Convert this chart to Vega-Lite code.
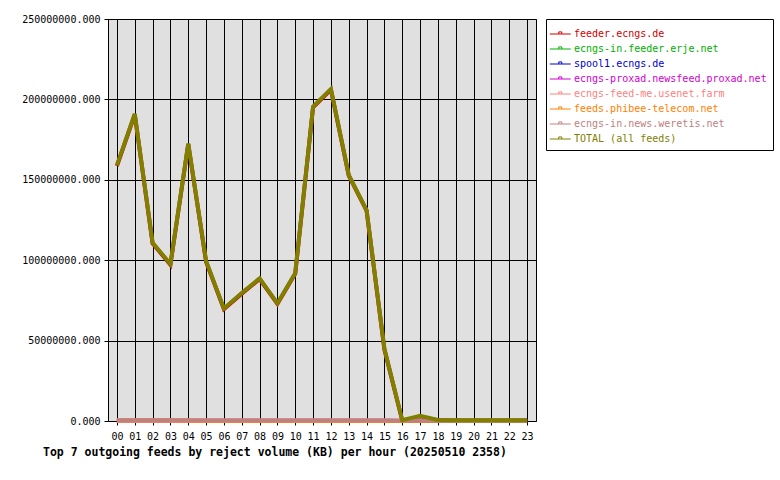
{
  "$schema": "https://vega.github.io/schema/vega-lite/v6.json",
  "width": 428,
  "height": 402,
  "autosize": "none",
  "padding": {"left": 108, "top": 19, "right": 244, "bottom": 59},
  "background": "white",
  "config": {
    "font": "DejaVu Sans Mono",
    "view": {"fill": "#e0e0e0", "stroke": "black", "strokeWidth": 1},
    "axis": {
      "labelFont": "DejaVu Sans Mono", "labelFontSize": 10, "labelColor": "black",
      "domainColor": "black", "tickColor": "black", "gridColor": "black",
      "gridOpacity": 1, "gridWidth": 1, "title": null
    }
  },
  "title": {
    "text": "Top 7 outgoing feeds by reject volume (KB) per hour (20250510 2358)",
    "orient": "bottom", "anchor": "start", "frame": "group", "dx": -65, "offset": 6,
    "font": "DejaVu Sans Mono", "fontSize": 11.5, "fontWeight": "bold", "color": "black"
  },
  "data": {"values": [
    {"h":"00","f":"feeder.ecngs.de","v":158600000},{"h":"01","f":"feeder.ecngs.de","v":190600000},{"h":"02","f":"feeder.ecngs.de","v":110500000},{"h":"03","f":"feeder.ecngs.de","v":97200000},{"h":"04","f":"feeder.ecngs.de","v":172100000},{"h":"05","f":"feeder.ecngs.de","v":99100000},{"h":"06","f":"feeder.ecngs.de","v":69600000},{"h":"07","f":"feeder.ecngs.de","v":79200000},{"h":"08","f":"feeder.ecngs.de","v":88300000},{"h":"09","f":"feeder.ecngs.de","v":72800000},{"h":"10","f":"feeder.ecngs.de","v":91600000},{"h":"11","f":"feeder.ecngs.de","v":195100000},{"h":"12","f":"feeder.ecngs.de","v":206100000},{"h":"13","f":"feeder.ecngs.de","v":152600000},{"h":"14","f":"feeder.ecngs.de","v":130800000},{"h":"15","f":"feeder.ecngs.de","v":44400000},{"h":"16","f":"feeder.ecngs.de","v":200000},{"h":"17","f":"feeder.ecngs.de","v":2800000},{"h":"18","f":"feeder.ecngs.de","v":400000},{"h":"19","f":"feeder.ecngs.de","v":300000},{"h":"20","f":"feeder.ecngs.de","v":300000},{"h":"21","f":"feeder.ecngs.de","v":300000},{"h":"22","f":"feeder.ecngs.de","v":300000},{"h":"23","f":"feeder.ecngs.de","v":300000},
    {"h":"00","f":"ecngs-in.feeder.erje.net","v":50000},{"h":"01","f":"ecngs-in.feeder.erje.net","v":50000},{"h":"02","f":"ecngs-in.feeder.erje.net","v":50000},{"h":"03","f":"ecngs-in.feeder.erje.net","v":50000},{"h":"04","f":"ecngs-in.feeder.erje.net","v":50000},{"h":"05","f":"ecngs-in.feeder.erje.net","v":50000},{"h":"06","f":"ecngs-in.feeder.erje.net","v":50000},{"h":"07","f":"ecngs-in.feeder.erje.net","v":50000},{"h":"08","f":"ecngs-in.feeder.erje.net","v":50000},{"h":"09","f":"ecngs-in.feeder.erje.net","v":50000},{"h":"10","f":"ecngs-in.feeder.erje.net","v":50000},{"h":"11","f":"ecngs-in.feeder.erje.net","v":50000},{"h":"12","f":"ecngs-in.feeder.erje.net","v":50000},{"h":"13","f":"ecngs-in.feeder.erje.net","v":50000},{"h":"14","f":"ecngs-in.feeder.erje.net","v":50000},{"h":"15","f":"ecngs-in.feeder.erje.net","v":50000},{"h":"16","f":"ecngs-in.feeder.erje.net","v":0},{"h":"17","f":"ecngs-in.feeder.erje.net","v":0},{"h":"18","f":"ecngs-in.feeder.erje.net","v":0},{"h":"19","f":"ecngs-in.feeder.erje.net","v":0},{"h":"20","f":"ecngs-in.feeder.erje.net","v":0},{"h":"21","f":"ecngs-in.feeder.erje.net","v":0},{"h":"22","f":"ecngs-in.feeder.erje.net","v":0},{"h":"23","f":"ecngs-in.feeder.erje.net","v":0},
    {"h":"00","f":"spool1.ecngs.de","v":0},{"h":"01","f":"spool1.ecngs.de","v":0},{"h":"02","f":"spool1.ecngs.de","v":0},{"h":"03","f":"spool1.ecngs.de","v":0},{"h":"04","f":"spool1.ecngs.de","v":0},{"h":"05","f":"spool1.ecngs.de","v":0},{"h":"06","f":"spool1.ecngs.de","v":0},{"h":"07","f":"spool1.ecngs.de","v":0},{"h":"08","f":"spool1.ecngs.de","v":0},{"h":"09","f":"spool1.ecngs.de","v":0},{"h":"10","f":"spool1.ecngs.de","v":0},{"h":"11","f":"spool1.ecngs.de","v":0},{"h":"12","f":"spool1.ecngs.de","v":0},{"h":"13","f":"spool1.ecngs.de","v":0},{"h":"14","f":"spool1.ecngs.de","v":0},{"h":"15","f":"spool1.ecngs.de","v":0},{"h":"16","f":"spool1.ecngs.de","v":0},{"h":"17","f":"spool1.ecngs.de","v":0},{"h":"18","f":"spool1.ecngs.de","v":0},{"h":"19","f":"spool1.ecngs.de","v":0},{"h":"20","f":"spool1.ecngs.de","v":0},{"h":"21","f":"spool1.ecngs.de","v":0},{"h":"22","f":"spool1.ecngs.de","v":0},{"h":"23","f":"spool1.ecngs.de","v":0},
    {"h":"00","f":"ecngs-proxad.newsfeed.proxad.net","v":0},{"h":"01","f":"ecngs-proxad.newsfeed.proxad.net","v":0},{"h":"02","f":"ecngs-proxad.newsfeed.proxad.net","v":0},{"h":"03","f":"ecngs-proxad.newsfeed.proxad.net","v":0},{"h":"04","f":"ecngs-proxad.newsfeed.proxad.net","v":0},{"h":"05","f":"ecngs-proxad.newsfeed.proxad.net","v":0},{"h":"06","f":"ecngs-proxad.newsfeed.proxad.net","v":0},{"h":"07","f":"ecngs-proxad.newsfeed.proxad.net","v":0},{"h":"08","f":"ecngs-proxad.newsfeed.proxad.net","v":0},{"h":"09","f":"ecngs-proxad.newsfeed.proxad.net","v":0},{"h":"10","f":"ecngs-proxad.newsfeed.proxad.net","v":0},{"h":"11","f":"ecngs-proxad.newsfeed.proxad.net","v":0},{"h":"12","f":"ecngs-proxad.newsfeed.proxad.net","v":0},{"h":"13","f":"ecngs-proxad.newsfeed.proxad.net","v":0},{"h":"14","f":"ecngs-proxad.newsfeed.proxad.net","v":0},{"h":"15","f":"ecngs-proxad.newsfeed.proxad.net","v":0},{"h":"16","f":"ecngs-proxad.newsfeed.proxad.net","v":0},{"h":"17","f":"ecngs-proxad.newsfeed.proxad.net","v":0},{"h":"18","f":"ecngs-proxad.newsfeed.proxad.net","v":0},{"h":"19","f":"ecngs-proxad.newsfeed.proxad.net","v":0},{"h":"20","f":"ecngs-proxad.newsfeed.proxad.net","v":0},{"h":"21","f":"ecngs-proxad.newsfeed.proxad.net","v":0},{"h":"22","f":"ecngs-proxad.newsfeed.proxad.net","v":0},{"h":"23","f":"ecngs-proxad.newsfeed.proxad.net","v":0},
    {"h":"00","f":"ecngs-feed-me.usenet.farm","v":0},{"h":"01","f":"ecngs-feed-me.usenet.farm","v":0},{"h":"02","f":"ecngs-feed-me.usenet.farm","v":0},{"h":"03","f":"ecngs-feed-me.usenet.farm","v":0},{"h":"04","f":"ecngs-feed-me.usenet.farm","v":0},{"h":"05","f":"ecngs-feed-me.usenet.farm","v":0},{"h":"06","f":"ecngs-feed-me.usenet.farm","v":0},{"h":"07","f":"ecngs-feed-me.usenet.farm","v":0},{"h":"08","f":"ecngs-feed-me.usenet.farm","v":0},{"h":"09","f":"ecngs-feed-me.usenet.farm","v":0},{"h":"10","f":"ecngs-feed-me.usenet.farm","v":0},{"h":"11","f":"ecngs-feed-me.usenet.farm","v":0},{"h":"12","f":"ecngs-feed-me.usenet.farm","v":0},{"h":"13","f":"ecngs-feed-me.usenet.farm","v":0},{"h":"14","f":"ecngs-feed-me.usenet.farm","v":0},{"h":"15","f":"ecngs-feed-me.usenet.farm","v":0},{"h":"16","f":"ecngs-feed-me.usenet.farm","v":0},{"h":"17","f":"ecngs-feed-me.usenet.farm","v":0},{"h":"18","f":"ecngs-feed-me.usenet.farm","v":0},{"h":"19","f":"ecngs-feed-me.usenet.farm","v":0},{"h":"20","f":"ecngs-feed-me.usenet.farm","v":0},{"h":"21","f":"ecngs-feed-me.usenet.farm","v":0},{"h":"22","f":"ecngs-feed-me.usenet.farm","v":0},{"h":"23","f":"ecngs-feed-me.usenet.farm","v":0},
    {"h":"00","f":"feeds.phibee-telecom.net","v":500000},{"h":"01","f":"feeds.phibee-telecom.net","v":500000},{"h":"02","f":"feeds.phibee-telecom.net","v":500000},{"h":"03","f":"feeds.phibee-telecom.net","v":500000},{"h":"04","f":"feeds.phibee-telecom.net","v":300000},{"h":"05","f":"feeds.phibee-telecom.net","v":200000},{"h":"06","f":"feeds.phibee-telecom.net","v":100000},{"h":"07","f":"feeds.phibee-telecom.net","v":100000},{"h":"08","f":"feeds.phibee-telecom.net","v":100000},{"h":"09","f":"feeds.phibee-telecom.net","v":100000},{"h":"10","f":"feeds.phibee-telecom.net","v":100000},{"h":"11","f":"feeds.phibee-telecom.net","v":100000},{"h":"12","f":"feeds.phibee-telecom.net","v":100000},{"h":"13","f":"feeds.phibee-telecom.net","v":100000},{"h":"14","f":"feeds.phibee-telecom.net","v":100000},{"h":"15","f":"feeds.phibee-telecom.net","v":100000},{"h":"16","f":"feeds.phibee-telecom.net","v":0},{"h":"17","f":"feeds.phibee-telecom.net","v":0},{"h":"18","f":"feeds.phibee-telecom.net","v":0},{"h":"19","f":"feeds.phibee-telecom.net","v":0},{"h":"20","f":"feeds.phibee-telecom.net","v":0},{"h":"21","f":"feeds.phibee-telecom.net","v":0},{"h":"22","f":"feeds.phibee-telecom.net","v":0},{"h":"23","f":"feeds.phibee-telecom.net","v":0},
    {"h":"00","f":"ecngs-in.news.weretis.net","v":400000},{"h":"01","f":"ecngs-in.news.weretis.net","v":400000},{"h":"02","f":"ecngs-in.news.weretis.net","v":400000},{"h":"03","f":"ecngs-in.news.weretis.net","v":400000},{"h":"04","f":"ecngs-in.news.weretis.net","v":400000},{"h":"05","f":"ecngs-in.news.weretis.net","v":400000},{"h":"06","f":"ecngs-in.news.weretis.net","v":400000},{"h":"07","f":"ecngs-in.news.weretis.net","v":400000},{"h":"08","f":"ecngs-in.news.weretis.net","v":400000},{"h":"09","f":"ecngs-in.news.weretis.net","v":400000},{"h":"10","f":"ecngs-in.news.weretis.net","v":400000},{"h":"11","f":"ecngs-in.news.weretis.net","v":400000},{"h":"12","f":"ecngs-in.news.weretis.net","v":400000},{"h":"13","f":"ecngs-in.news.weretis.net","v":400000},{"h":"14","f":"ecngs-in.news.weretis.net","v":400000},{"h":"15","f":"ecngs-in.news.weretis.net","v":400000},{"h":"16","f":"ecngs-in.news.weretis.net","v":300000},{"h":"17","f":"ecngs-in.news.weretis.net","v":400000},{"h":"18","f":"ecngs-in.news.weretis.net","v":200000},{"h":"19","f":"ecngs-in.news.weretis.net","v":100000},{"h":"20","f":"ecngs-in.news.weretis.net","v":100000},{"h":"21","f":"ecngs-in.news.weretis.net","v":100000},{"h":"22","f":"ecngs-in.news.weretis.net","v":100000},{"h":"23","f":"ecngs-in.news.weretis.net","v":100000},
    {"h":"00","f":"TOTAL (all feeds)","v":159000000},{"h":"01","f":"TOTAL (all feeds)","v":191000000},{"h":"02","f":"TOTAL (all feeds)","v":110900000},{"h":"03","f":"TOTAL (all feeds)","v":97600000},{"h":"04","f":"TOTAL (all feeds)","v":172500000},{"h":"05","f":"TOTAL (all feeds)","v":99500000},{"h":"06","f":"TOTAL (all feeds)","v":70000000},{"h":"07","f":"TOTAL (all feeds)","v":79600000},{"h":"08","f":"TOTAL (all feeds)","v":88700000},{"h":"09","f":"TOTAL (all feeds)","v":73200000},{"h":"10","f":"TOTAL (all feeds)","v":92000000},{"h":"11","f":"TOTAL (all feeds)","v":195500000},{"h":"12","f":"TOTAL (all feeds)","v":206500000},{"h":"13","f":"TOTAL (all feeds)","v":153000000},{"h":"14","f":"TOTAL (all feeds)","v":131200000},{"h":"15","f":"TOTAL (all feeds)","v":45000000},{"h":"16","f":"TOTAL (all feeds)","v":500000},{"h":"17","f":"TOTAL (all feeds)","v":3200000},{"h":"18","f":"TOTAL (all feeds)","v":600000},{"h":"19","f":"TOTAL (all feeds)","v":400000},{"h":"20","f":"TOTAL (all feeds)","v":400000},{"h":"21","f":"TOTAL (all feeds)","v":400000},{"h":"22","f":"TOTAL (all feeds)","v":400000},{"h":"23","f":"TOTAL (all feeds)","v":400000}
  ]},
  "mark": {"type": "line", "strokeWidth": 4, "strokeCap": "butt", "strokeJoin": "miter"},
  "encoding": {
    "x": {
      "field": "h", "type": "ordinal",
      "scale": {"type": "point", "padding": 0.5},
      "axis": {"labelAngle": 0, "grid": true, "tickSize": 4, "labelPadding": 6, "domain": false}
    },
    "y": {
      "field": "v", "type": "quantitative",
      "scale": {"domain": [0, 250000000], "nice": false},
      "axis": {"values": [0, 50000000, 100000000, 150000000, 200000000, 250000000], "format": ".3f", "tickSize": 4, "labelPadding": 4, "domain": false}
    },
    "color": {
      "field": "f", "type": "nominal",
      "scale": {
        "domain": ["feeder.ecngs.de", "ecngs-in.feeder.erje.net", "spool1.ecngs.de", "ecngs-proxad.newsfeed.proxad.net", "ecngs-feed-me.usenet.farm", "feeds.phibee-telecom.net", "ecngs-in.news.weretis.net", "TOTAL (all feeds)"],
        "range": ["#d00000", "#00b000", "#0000d0", "#d000d0", "#ff8080", "#ff8000", "#c08080", "#808000"]
      },
      "legend": {
        "title": " ", "titleFontSize": 1, "titlePadding": 3,
        "orient": "none", "legendX": 438, "legendY": 0,
        "fillColor": "white", "strokeColor": "black", "padding": 6,
        "symbolType": "M-1,0H4M1.14,0V-0.5H1.86V0", "symbolSize": 70, "symbolStrokeWidth": 1,
        "symbolFillColor": "transparent", "symbolOffset": -3, "labelOffset": 15,
        "labelFont": "DejaVu Sans Mono", "labelFontSize": 10, "rowPadding": 5,
        "labelLimit": 300,
        "encode": {"labels": {"update": {"fill": {"scale": "color", "field": "value"}}}}
      }
    }
  }
}
